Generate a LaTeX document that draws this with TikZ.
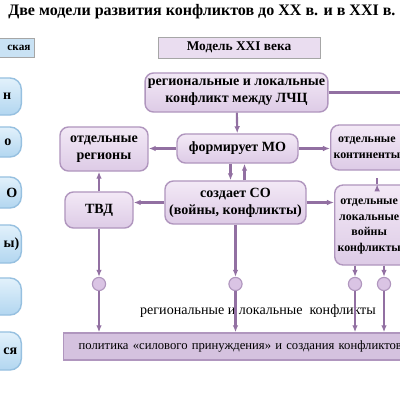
\documentclass[tikz,border=0pt]{standalone}
\usepackage{fontspec}
\setmainfont{Liberation Serif}
\usetikzlibrary{positioning,arrows.meta,calc}
\definecolor{lilactop}{RGB}{243,233,246}
\definecolor{lilacbot}{RGB}{221,203,230}
\definecolor{lilacedge}{RGB}{176,150,190}
\definecolor{lilacdot}{RGB}{218,196,228}
\definecolor{wire}{RGB}{146,112,162}
\definecolor{skytop}{RGB}{226,241,251}
\definecolor{skybot}{RGB}{178,214,240}
\definecolor{skyedge}{RGB}{150,192,224}
\newcommand{\padtext}[2]{\begin{tabular}{@{}c@{\hspace{#1}}}#2\end{tabular}}

\begin{document}
\begin{tikzpicture}[x=0.025cm,y=-0.025cm,>={Latex[length=5pt,width=4pt]},
    pbox/.style={draw=lilacedge,line width=1pt,rounded corners=6pt,top color=lilactop,bottom color=lilacbot,align=center,font=\bfseries\fontsize{10}{12}\selectfont,inner sep=2pt},
    edgebox/.style={pbox,anchor=west,inner xsep=2pt,font=\bfseries\fontsize{8.5}{11}\selectfont},
    bbox/.style={draw=skyedge,line width=1pt,rounded corners=8pt,top color=skytop,bottom color=skybot,anchor=east,text width=2cm,align=right,font=\bfseries\fontsize{10}{12}\selectfont},
    dot/.style={circle,draw=lilacedge,line width=0.8pt,fill=lilacdot,minimum size=0.33cm,inner sep=0pt},
    link/.style={draw=wire,line width=1.5pt}]
    \useasboundingbox (0,0) rectangle (400,400);
    \clip (0,0) rectangle (400,400);
    \fill[white] (0,0) rectangle (400,400);
    \node[anchor=west,inner xsep=0pt,font=\bfseries\fontsize{11.4}{14}\selectfont] (title) at (8,12) {Две модели развития конфликтов до XX в. и в XXI в.};
    \node[draw=black!35,fill=skybot!70,anchor=east,minimum height=0.47cm,text width=1.8cm,align=right,inner xsep=3pt,font=\bfseries\fontsize{8}{10}\selectfont] (old) at (35,47.5) {ская};
    \node[draw=black!35,fill=lilactop!60!lilacbot,minimum width=4.05cm,minimum height=0.52cm,font=\bfseries\fontsize{9.5}{11}\selectfont] (head) at (239,47.5) {Модель XXI века};
    \node[bbox,minimum height=0.925cm,inner xsep=0.25cm] (b1) at (22,96.5) {н};
    \node[bbox,minimum height=0.75cm,inner xsep=0.25cm] (b2) at (22,142) {о};
    \node[bbox,minimum height=0.775cm,inner xsep=0.1cm] (b3) at (22,192.5) {О};
    \node[bbox,minimum height=0.95cm,inner xsep=0.05cm] (b4) at (22,244) {ы)};
    \node[bbox,minimum height=0.925cm,inner xsep=0.1cm] (b5) at (22,296.5) {};
    \node[bbox,minimum height=0.95cm,inner xsep=0.1cm] (b6) at (22,351) {ся};
    \node[pbox,minimum width=4.425cm,minimum height=0.975cm] (reg) at (236.5,92.5) {региональные и локальные\\конфликт между ЛЧЦ};
    \node[pbox,minimum width=3.025cm,minimum height=0.725cm] (form) at (237.5,148.5) {формирует МО};
    \node[pbox,minimum width=2.2cm,minimum height=1.1cm] (otdreg) at (104,149) {отдельные\\регионы};
    \node[edgebox,minimum height=1.125cm] (cont) at (330,147.5) {\padtext{0.7cm}{отдельные\\континенты}};
    \node[pbox,minimum width=3.525cm,minimum height=1.075cm] (so) at (235.5,202.5) {создает СО\\(войны, конфликты)};
    \node[pbox,minimum width=1.7cm,minimum height=0.9cm] (tvd) at (99,210) {ТВД};
    \node[edgebox,minimum height=2cm] (lok) at (334,225) {\padtext{0.7cm}{отдельные\\локальные\\войны\\конфликты}};
    \node[draw=lilacedge,line width=1pt,fill=lilacbot!90!wire,anchor=west,minimum height=0.675cm,text width=8.8cm,align=left,inner xsep=0.375cm,font=\fontsize{9}{11}\selectfont] (pol) at (63,346.5) {политика «силового принуждения» и создания конфликтов};
    \node[font=\fontsize{10}{12}\selectfont] (lbl) at (258,311) {региональные и локальные\ \ конфликты};
    \node[dot] (c1) at (99,284) {};
    \node[dot] (c2) at (235.5,284) {};
    \node[dot] (c3) at (355,284) {};
    \node[dot] (c4) at (384,284) {};
    \coordinate (offr) at (420,90);
    \draw[link] (reg.east) -- (reg.east -| offr);
    \draw[link,->] (reg) -- (form);
    \draw[link,->] (form.west) -- (form.west -| otdreg.east); \draw[link,->] (form.east) -- (form.east -| cont.west);
    \draw[link,->] ($(form.south)+(-7,0)$) -- ($(so.north)+(-5,0)$); \draw[link,->] ($(so.north)+(9,0)$) -- ($(form.south)+(7,0)$);
    \draw[link,->] (so.west) -- (so.west -| tvd.east); \draw[link,->] (so.east) -- (so.east -| lok.west);
    \draw[link,->] (tvd) -- (otdreg.south -| tvd); \draw[link,->] ($(lok.north)+(-6,0)$) -- ($(lok.north)+(-6,0)$ |- cont.south);
    \draw[link,->] (tvd) -- (c1); \draw[link,->] (so) -- (c2);
    \draw[link,->] (c3 |- lok.south) -- (c3); \draw[link,->] (c4 |- lok.south) -- (c4);
    \foreach \c in {c1,c2,c3,c4} \draw[link,->] (\c) -- (\c |- pol.north);
  \end{tikzpicture}
\end{document}
